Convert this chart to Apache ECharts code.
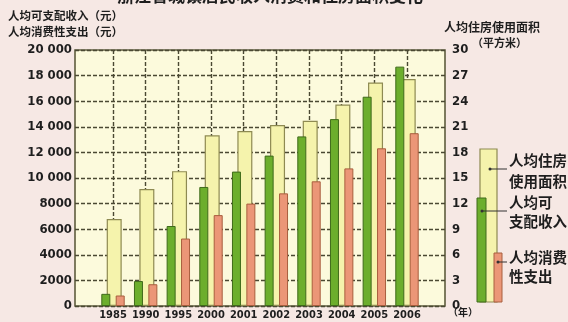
<!DOCTYPE html>
<html><head><meta charset="utf-8">
<script src="https://cdn.jsdelivr.net/npm/echarts@6/dist/echarts.min.js"></script>
<style>html,body{margin:0;padding:0;background:#f6e8e4;}#c{width:568px;height:322px;}</style>
</head><body><div id="c"></div>
<script>
// ---- data ----
const years = ['1985','1990','1995','2000','2001','2002','2003','2004','2005','2006'];
const income = [950, 1950, 6250, 9300, 10500, 11750, 13250, 14600, 16350, 18700];   // 人均可支配收入 (元)
const spending = [820, 1700, 5270, 7100, 8000, 8800, 9740, 10750, 12320, 13500];      // 人均消费性支出 (元)
const housing = [10.2, 13.7, 15.8, 20.0, 20.5, 21.2, 21.7, 23.6, 26.2, 26.6];         // 人均住房使用面积 (平方米)
const leftAxis = {min: 0, max: 20000, interval: 2000};
const rightAxis = {min: 0, max: 30, interval: 3};
const titleText = '浙江省城镇居民收入消费和住房面积变化';
const leftNames = ['人均可支配收入（元）', '人均消费性支出（元）'];
const rightNames = ['人均住房使用面积', '（平方米）'];
const legendNames = [['人均住房', '使用面积'], ['人均可', '支配收入'], ['人均消费', '性支出']];
const yearUnit = '（年）';

// ---- style ----
const GREEN = '#6cae2c', GREEN_B = '#3f6a1a';
const YEL = '#f5f3ac', YEL_B = '#8e8a52';
const ORA = '#eb9677', ORA_B = '#a85e3e';
const NUMFONT = '"Liberation Sans Narrow","DejaVu Sans Condensed","Liberation Sans",sans-serif';
const CJK = '"Noto Sans CJK SC",sans-serif';
const gridLine = {show: true, lineStyle: {type: [4, 2], color: '#4a4832', width: 1.4}};

const chart = echarts.init(document.getElementById('c'), null, {renderer: 'canvas'});
function fmtLeft(v) {
  if (v >= 10000) { const s = String(v); return s.slice(0, s.length - 3) + ' ' + s.slice(-3); }
  return String(v);
}
const txt = (x, y, t, extra) => Object.assign({type: 'text', x: x, y: y, style: Object.assign({text: t, fill: '#1e1e1e', font: 'bold 12px ' + CJK}, extra || {})});

chart.setOption({
  backgroundColor: '#f6e8e4',
  animation: false,
  grid: [
    {left: 75, top: 50, width: 370, height: 256, show: true, backgroundColor: '#fcfadc', borderColor: '#5e5c3e', borderWidth: 1.6},
    {left: 113, top: 50, width: 294, height: 256}
  ],
  xAxis: [
    {gridIndex: 0, type: 'value', min: 0, max: 1, show: false},
    {gridIndex: 1, type: 'category', data: years, boundaryGap: false,
      axisLine: {show: false}, axisTick: {show: false},
      axisLabel: {interval: 0, margin: 4, color: '#1e1e1e', fontWeight: 'bold', fontSize: 11, fontFamily: NUMFONT},
      splitLine: Object.assign({interval: 0}, gridLine)}
  ],
  yAxis: [
    {gridIndex: 0, type: 'value', position: 'left', min: leftAxis.min, max: leftAxis.max, interval: leftAxis.interval,
      axisLine: {show: false}, axisTick: {show: false},
      axisLabel: {formatter: fmtLeft, margin: 3, color: '#1e1e1e', fontWeight: 'bold', fontSize: 13, fontFamily: NUMFONT},
      splitLine: gridLine},
    {gridIndex: 0, type: 'value', position: 'right', min: rightAxis.min, max: rightAxis.max, interval: rightAxis.interval,
      axisLine: {show: false}, axisTick: {show: false},
      axisLabel: {margin: 7, color: '#1e1e1e', fontWeight: 'bold', fontSize: 13, fontFamily: NUMFONT},
      splitLine: {show: false}},
    {gridIndex: 1, type: 'value', min: leftAxis.min, max: leftAxis.max, show: false},
    {gridIndex: 1, type: 'value', min: rightAxis.min, max: rightAxis.max, show: false}
  ],
  series: [
    {name: '人均可支配收入', type: 'bar', xAxisIndex: 1, yAxisIndex: 2, data: income, barWidth: 9, barGap: '-40%', clip: false, z: 3,
      itemStyle: {color: GREEN, borderColor: GREEN_B, borderWidth: 1}},
    {name: '人均住房使用面积', type: 'bar', xAxisIndex: 1, yAxisIndex: 3, data: housing, barWidth: 15, barGap: '-40%', clip: false, z: 2,
      itemStyle: {color: YEL, borderColor: YEL_B, borderWidth: 1.2}},
    {name: '人均消费性支出', type: 'bar', xAxisIndex: 1, yAxisIndex: 2, data: spending, barWidth: 9, barGap: '-40%', clip: false, z: 3,
      itemStyle: {color: ORA, borderColor: ORA_B, borderWidth: 1}}
  ],
  graphic: [
    txt(270, -13, titleText, {font: 'bold 17px ' + CJK, textAlign: 'center'}),
    txt(8, 10, leftNames[0], {font: 'bold 11.5px ' + CJK}),
    txt(8, 26, leftNames[1], {font: 'bold 11.5px ' + CJK}),
    txt(444, 21, rightNames[0], {font: 'bold 12px ' + CJK}),
    txt(472, 37, rightNames[1], {font: 'bold 11px ' + CJK}),
    txt(448, 307, yearUnit, {font: 'bold 10px ' + CJK}),
    // legend illustration
    {type: 'rect', shape: {x: 480, y: 149, width: 17, height: 153}, style: {fill: YEL, stroke: YEL_B, lineWidth: 1.2}},
    {type: 'rect', shape: {x: 477, y: 198, width: 9, height: 104}, style: {fill: GREEN, stroke: GREEN_B, lineWidth: 1}},
    {type: 'rect', shape: {x: 494, y: 253, width: 8, height: 49}, style: {fill: ORA, stroke: ORA_B, lineWidth: 1}},
    {type: 'line', shape: {x1: 490, y1: 169, x2: 507, y2: 169}, style: {stroke: '#333', lineWidth: 1}},
    {type: 'line', shape: {x1: 482, y1: 211, x2: 507, y2: 211}, style: {stroke: '#333', lineWidth: 1}},
    {type: 'line', shape: {x1: 498, y1: 262, x2: 507, y2: 262}, style: {stroke: '#333', lineWidth: 1}},
    {type: 'circle', shape: {cx: 490, cy: 169, r: 1.5}, style: {fill: '#333'}},
    {type: 'circle', shape: {cx: 482, cy: 211, r: 1.5}, style: {fill: '#333'}},
    {type: 'circle', shape: {cx: 498, cy: 262, r: 1.5}, style: {fill: '#333'}},
    txt(509, 153, legendNames[0][0], {font: 'bold 14.5px ' + CJK}),
    txt(509, 174, legendNames[0][1], {font: 'bold 14.5px ' + CJK}),
    txt(509, 195, legendNames[1][0], {font: 'bold 14.5px ' + CJK}),
    txt(509, 214, legendNames[1][1], {font: 'bold 14.5px ' + CJK}),
    txt(509, 250, legendNames[2][0], {font: 'bold 14.5px ' + CJK}),
    txt(509, 269, legendNames[2][1], {font: 'bold 14.5px ' + CJK})
  ]
});
</script></body></html>
